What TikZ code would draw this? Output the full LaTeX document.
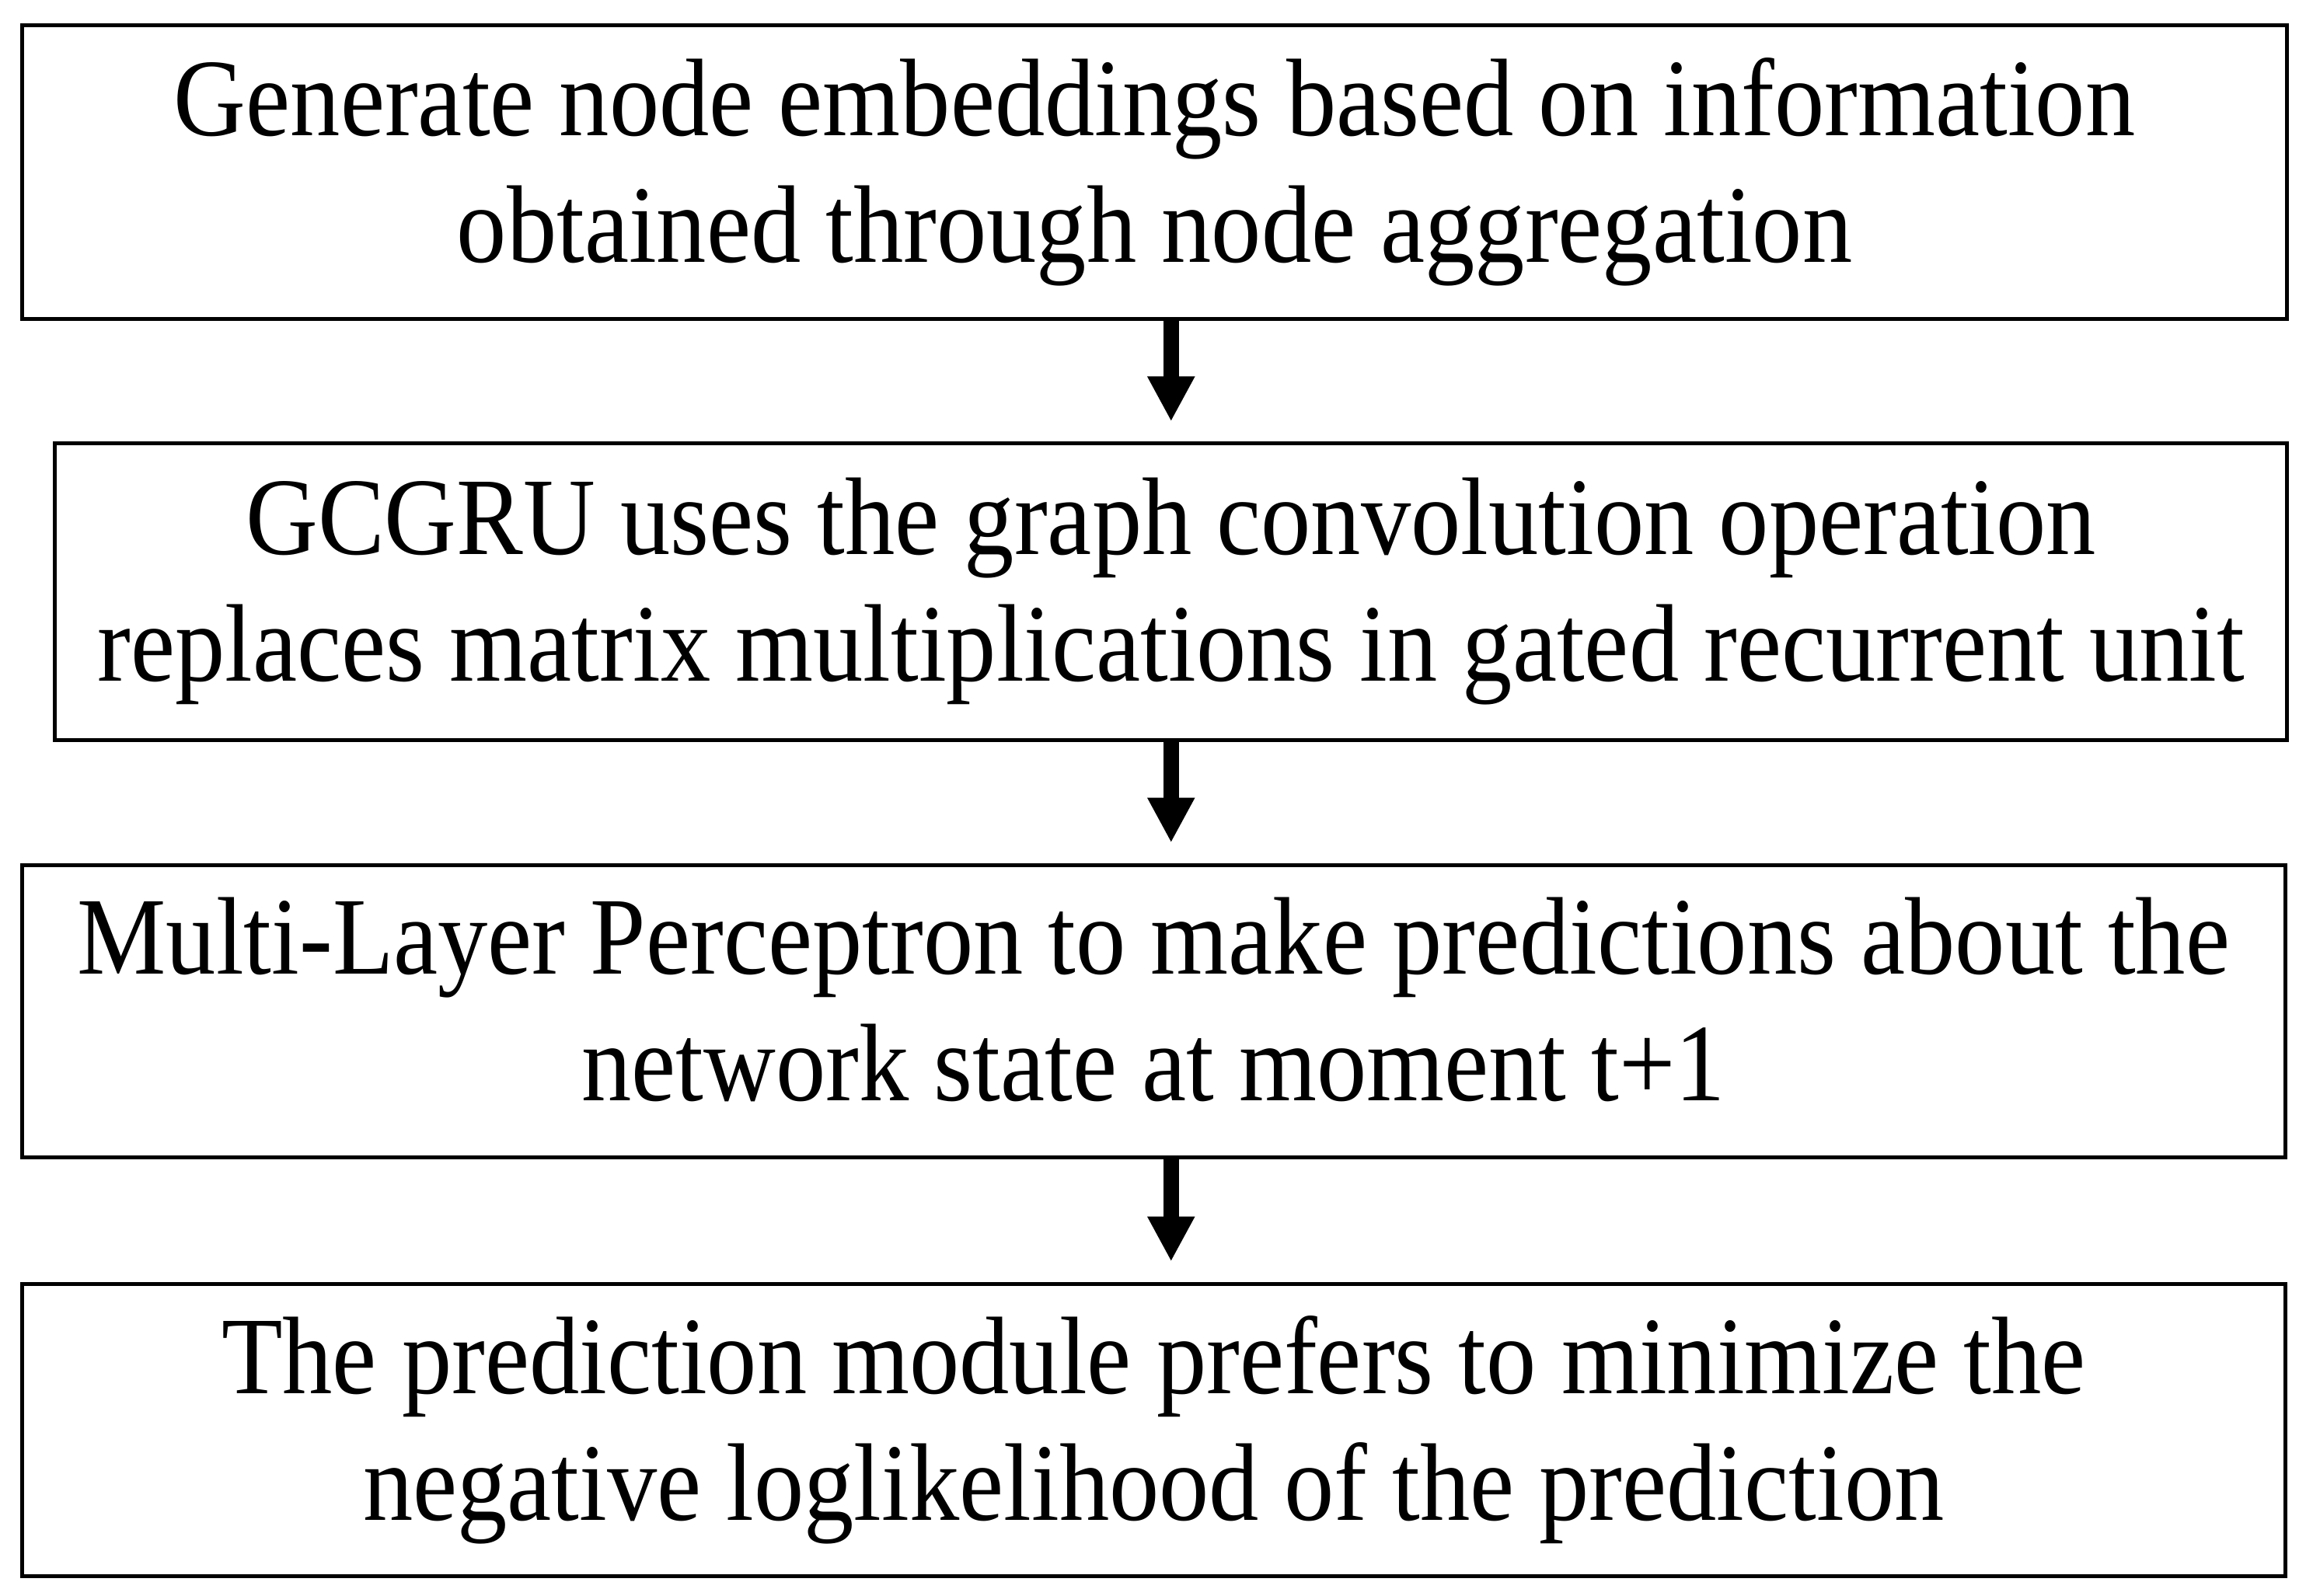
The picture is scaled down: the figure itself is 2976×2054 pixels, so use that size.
\documentclass[tikz,border=0pt]{standalone}
\usepackage{fontspec}
\setmainfont{Liberation Serif}[FakeStretch=0.905]
\usetikzlibrary{arrows.meta}
\tikzset{
    stepbox/.style={draw, line width=1.25pt, align=center, inner sep=0pt,
        font=\fontsize{35.5pt}{40.75pt}\selectfont,
        execute at begin node={\rule{0pt}{0.878em}},
        execute at end node={\rule[-0.22em]{0pt}{0.22em}}},
    flow/.style={-{Triangle[length=14.5pt,width=14.25pt]}, line width=5pt, shorten >=6.5pt}
}
\begin{document}
\begin{tikzpicture}[x=0.25pt, y=-0.25pt]
            \useasboundingbox (0, 0) rectangle (2976, 2054);

            \node[stepbox, minimum width=728.5pt, minimum height=94.4pt] (gen) at (1485.5, 221.75)
                {Generate node embeddings based on information\\obtained through node aggregation};
            \node[stepbox, minimum width=718.1pt, minimum height=95.4pt] (gcgru) at (1506.75, 761.75)
                {GCGRU uses the graph convolution operation\\replaces matrix multiplications in gated recurrent unit};
            \node[stepbox, minimum width=727.9pt, minimum height=94.1pt] (mlp) at (1484.25, 1301.25)
                {Multi-Layer Perceptron to make predictions about the\\network state at moment t+1};
            \node[stepbox, minimum width=727.9pt, minimum height=94.1pt] (pred) at (1484.25, 1840.25)
                {The prediction module prefers to minimize the\\negative loglikelihood of the prediction};

            \draw[flow] (gen.south -| gcgru) -- (gcgru.north);
            \draw[flow] (gcgru.south) -- (mlp.north -| gcgru);
            \draw[flow] (mlp.south -| gcgru) -- (pred.north -| gcgru);
        \end{tikzpicture}
\end{document}
